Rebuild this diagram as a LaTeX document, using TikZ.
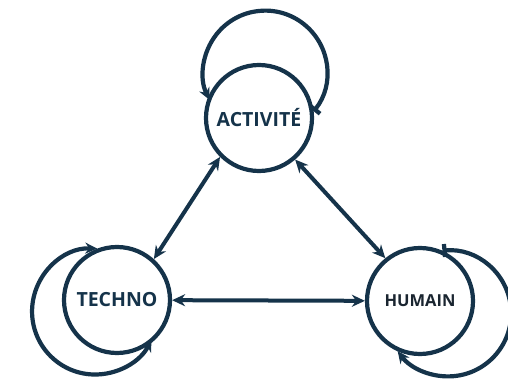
\documentclass[tikz,border=0pt]{standalone}
\usepackage{fontspec}
\setmainfont{Open Sans}
\usetikzlibrary{arrows.meta}
\definecolor{navy}{HTML}{15334A}
\definecolor{ink}{HTML}{1A2530}
\begin{document}
\begin{tikzpicture}[x=1pt,y=1pt,
  state/.style={circle,draw=navy,line width=4.2pt,minimum size=106pt,inner sep=0pt,
    font=\bfseries\fontsize{19.5}{22}\selectfont,text=navy},
  link/.style={draw=navy,line width=4pt,{Stealth[length=13pt,width=12pt]}-{Stealth[length=13pt,width=12pt]}},
  selfloop/.style={draw=navy,line width=4.2pt}]
\useasboundingbox (0,0) rectangle (508,391);
\fill[white] (0,0) rectangle (508,391);

% the three states
\node[state] (A) at (259,273) {ACTIVITÉ};
\node[state] (T) at (117,91) {TECHNO};
\node[state,text=ink,font=\bfseries\fontsize{16.5}{19}\selectfont] (H) at (420,90) {HUMAIN};

% links between the states
\draw[link] (A.225) -- (T.48);
\draw[link] (A.-49) -- (H.129);
\draw[link] (T) -- (H);

% self loops
\draw[selfloop,{Bar[width=13pt]}-{Stealth[length=12pt,width=11pt]}]
  (A.7.8) arc[start angle=-38.6,end angle=206.2,radius=62];
\draw[selfloop,{Stealth[length=12pt,width=11pt]}-{Stealth[length=12pt,width=11pt]}]
  (T.111) arc[start angle=88,end angle=333.5,radius=63];
\draw[selfloop,{Bar[width=13pt]}-{Stealth[length=12pt,width=11pt]}]
  (H.66) arc[start angle=95.2,end angle=-143.2,radius=63];
\end{tikzpicture}
\end{document}
